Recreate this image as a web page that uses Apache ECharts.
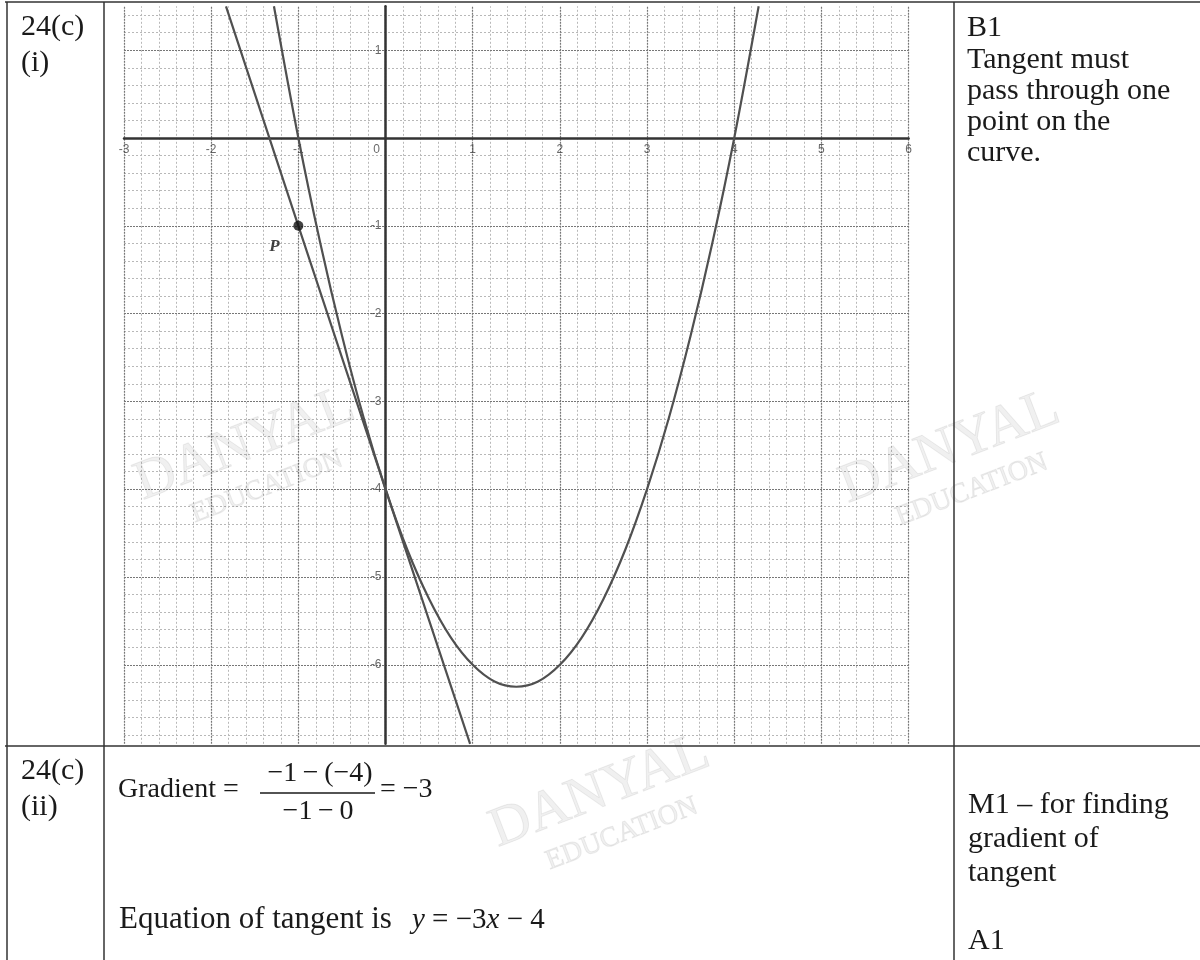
<!DOCTYPE html>
<html>
<head>
<meta charset="utf-8">
<script src="https://cdn.jsdelivr.net/npm/echarts@6/dist/echarts.min.js"></script>
<style>
  html, body { margin: 0; padding: 0; background: #fff; }
  #chart { width: 1200px; height: 960px; }
</style>
</head>
<body>
<div id="chart"></div>
<script>
// Axis ranges and tick labels
const xRange = [-3, 6];
const yRange = [-6.9, 1.5];
const xTicks = [-3, -2, -1, 0, 1, 2, 3, 4, 5, 6];
const yTicks = [-6, -5, -4, -3, -2, -1, 1];

// Curve y = x^2 - 3x - 4, points along the drawn parabola
const curveX = [-1.28, -1, -0.75, -0.5, -0.25, 0, 0.25, 0.5, 0.75, 1, 1.25, 1.5, 1.75, 2, 2.25, 2.5, 2.75, 3, 3.25, 3.5, 3.75, 4, 4.28];
const curveY = [1.5, 0, -1.19, -2.25, -3.19, -4, -4.69, -5.25, -5.69, -6, -6.19, -6.25, -6.19, -6, -5.69, -5.25, -4.69, -4, -3.19, -2.25, -1.19, 0, 1.5];

// Tangent y = -3x - 4
const tangentX = [-1.83, -1, 0, 0.97];
const tangentY = [1.5, -1, -4, -6.9];

// Point P
const pointP = [-1, -1];

const SERIF = "'Liberation Serif', 'Times New Roman', serif";
const SANS = "'Liberation Sans', Arial, sans-serif";
const INK = '#1a1a1a';

// Graph-paper lines every 0.2 units, darker on whole units
function gridLines(major) {
  const out = [];
  const r = v => Math.round(v * 10) / 10;
  for (let i = Math.ceil(xRange[0] * 5); i <= Math.floor(xRange[1] * 5); i++) {
    const v = r(i / 5);
    if (Number.isInteger(v) === major) out.push({ coords: [[v, yRange[0]], [v, yRange[1]]] });
  }
  for (let i = Math.ceil(yRange[0] * 5); i <= Math.floor(yRange[1] * 5); i++) {
    const v = r(i / 5);
    if (Number.isInteger(v) === major) out.push({ coords: [[xRange[0], v], [xRange[1], v]] });
  }
  return out;
}

const zip = (a, b) => a.map((v, i) => [v, b[i]]);

// Table frame and cell texts
const border = { stroke: '#333', lineWidth: 1.5 };
function hLine(y, x1, x2) { return { type: 'line', z: 50, shape: { x1, y1: y, x2, y2: y }, style: border }; }
function vLine(x, y1, y2) { return { type: 'line', z: 50, shape: { x1: x, y1, x2: x, y2 }, style: border }; }
function txt(s, x, y, size, align) {
  return {
    type: 'text', z: 50, x, y,
    style: { text: s, font: size + 'px ' + SERIF, fill: INK, textAlign: align || 'left', textVerticalAlign: 'middle' }
  };
}
function watermark(cx, cy) {
  const rot = 21 * Math.PI / 180;
  const st = { fill: 'rgba(0,0,0,0.06)', stroke: 'rgba(0,0,0,0.07)', lineWidth: 1, textAlign: 'center', textVerticalAlign: 'middle' };
  return [
    { type: 'text', z: 40, x: cx, y: cy, rotation: rot,
      style: Object.assign({ text: 'DANYAL', font: '56px ' + SERIF }, st) },
    { type: 'text', z: 40, x: cx + 22, y: cy + 42, rotation: rot,
      style: Object.assign({ text: 'EDUCATION', font: '28px ' + SERIF }, st) }
  ];
}

const TXT = 30;   // body text size
const EQ = 28;    // equation size

const graphic = [
  hLine(2, 5, 1200),
  hLine(746, 5, 1200),
  vLine(7, 2, 960),
  vLine(104, 2, 960),
  vLine(954, 2, 960),

  // part (i)
  txt('24(c)', 21, 27, TXT),
  txt('(i)', 21, 63, TXT),

  txt('B1', 967, 28, TXT),
  txt('Tangent must', 967, 60, TXT),
  txt('pass through one', 967, 91, TXT),
  txt('point on the', 967, 122, TXT),
  txt('curve.', 967, 153, TXT),

  // part (ii)
  txt('24(c)', 21, 771, TXT),
  txt('(ii)', 21, 807, TXT),

  txt('Gradient =', 118, 790, EQ),
  txt('\u22121\u2009\u2212\u2009(\u22124)', 320, 774, EQ, 'center'),
  { type: 'line', z: 50, shape: { x1: 260, y1: 793, x2: 375, y2: 793 }, style: { stroke: INK, lineWidth: 1.4 } },
  txt('\u22121\u2009\u2212\u20090', 318, 812, EQ, 'center'),
  txt('= \u22123', 380, 790, EQ),

  txt('Equation of tangent is', 119, 920, 31),
  { type: 'text', z: 50, x: 412, y: 920,
    style: {
      text: '{i|y} = \u22123{i|x} \u2212 4',
      font: '29px ' + SERIF, fill: INK, textAlign: 'left', textVerticalAlign: 'middle',
      rich: { i: { fontStyle: 'italic', fontFamily: SERIF, fontSize: 29, fill: INK } }
    } },

  txt('M1 \u2013 for finding', 968, 805, TXT),
  txt('gradient of', 968, 839, TXT),
  txt('tangent', 968, 873, TXT),
  txt('A1', 968, 941, TXT)
].concat(watermark(245, 445), watermark(950, 448), watermark(600, 792));

// Tick labels sit beside the axes through the origin
const xLabelData = xTicks.map(v => [v, 0]);
const yLabelData = yTicks.map(v => [0, v]);
const tickLabel = { color: '#444', fontSize: 12, fontFamily: SANS };

const chart = echarts.init(document.getElementById('chart'), null, { renderer: 'canvas' });
chart.setOption({
  animation: false,
  backgroundColor: '#fff',
  grid: { left: 124, top: 6.3, width: 784.6, height: 737.5, containLabel: false },
  xAxis: {
    type: 'value', min: xRange[0], max: xRange[1], z: 3,
    axisLine: { onZero: true, lineStyle: { color: '#333', width: 2.5 } },
    axisTick: { show: false }, axisLabel: { show: false }, splitLine: { show: false }
  },
  yAxis: {
    type: 'value', min: yRange[0], max: yRange[1], z: 3,
    axisLine: { onZero: true, lineStyle: { color: '#333', width: 2.5 } },
    axisTick: { show: false }, axisLabel: { show: false }, splitLine: { show: false }
  },
  series: [
    {
      type: 'lines', coordinateSystem: 'cartesian2d', silent: true, z: 1,
      lineStyle: { color: '#b8b8b8', width: 1, type: [2, 2], opacity: 1 },
      data: gridLines(false)
    },
    {
      type: 'lines', coordinateSystem: 'cartesian2d', silent: true, z: 1,
      lineStyle: { color: '#777', width: 1.2, type: [2, 1], opacity: 1 },
      data: gridLines(true)
    },
    {
      type: 'scatter', data: xLabelData, symbolSize: 0, silent: true, z: 3,
      label: Object.assign({
        show: true, position: 'bottom', distance: 6,
        formatter: p => String(p.value[0]),
      }, tickLabel),
      labelLayout: p => (p.dataIndex === 3 ? { dx: -9 } : {})
    },
    {
      type: 'scatter', data: yLabelData, symbolSize: 0, silent: true, z: 3,
      label: Object.assign({
        show: true, position: 'left', distance: 4,
        formatter: p => String(p.value[1])
      }, tickLabel)
    },
    {
      type: 'line', data: zip(curveX, curveY), smooth: 0.35, showSymbol: false, z: 4, silent: true,
      lineStyle: { color: '#505050', width: 2.2 }
    },
    {
      type: 'line', data: zip(tangentX, tangentY), showSymbol: false, z: 4, silent: true,
      lineStyle: { color: '#505050', width: 2.2 }
    },
    {
      type: 'scatter', data: [pointP], symbolSize: 10, z: 5, silent: true,
      itemStyle: { color: '#111' },
      label: {
        show: true, formatter: 'P', position: [-24, 17],
        fontFamily: SERIF, fontStyle: 'italic', fontWeight: 'bold', fontSize: 17, color: '#111'
      }
    }
  ],
  graphic: graphic
});
</script>
</body>
</html>
